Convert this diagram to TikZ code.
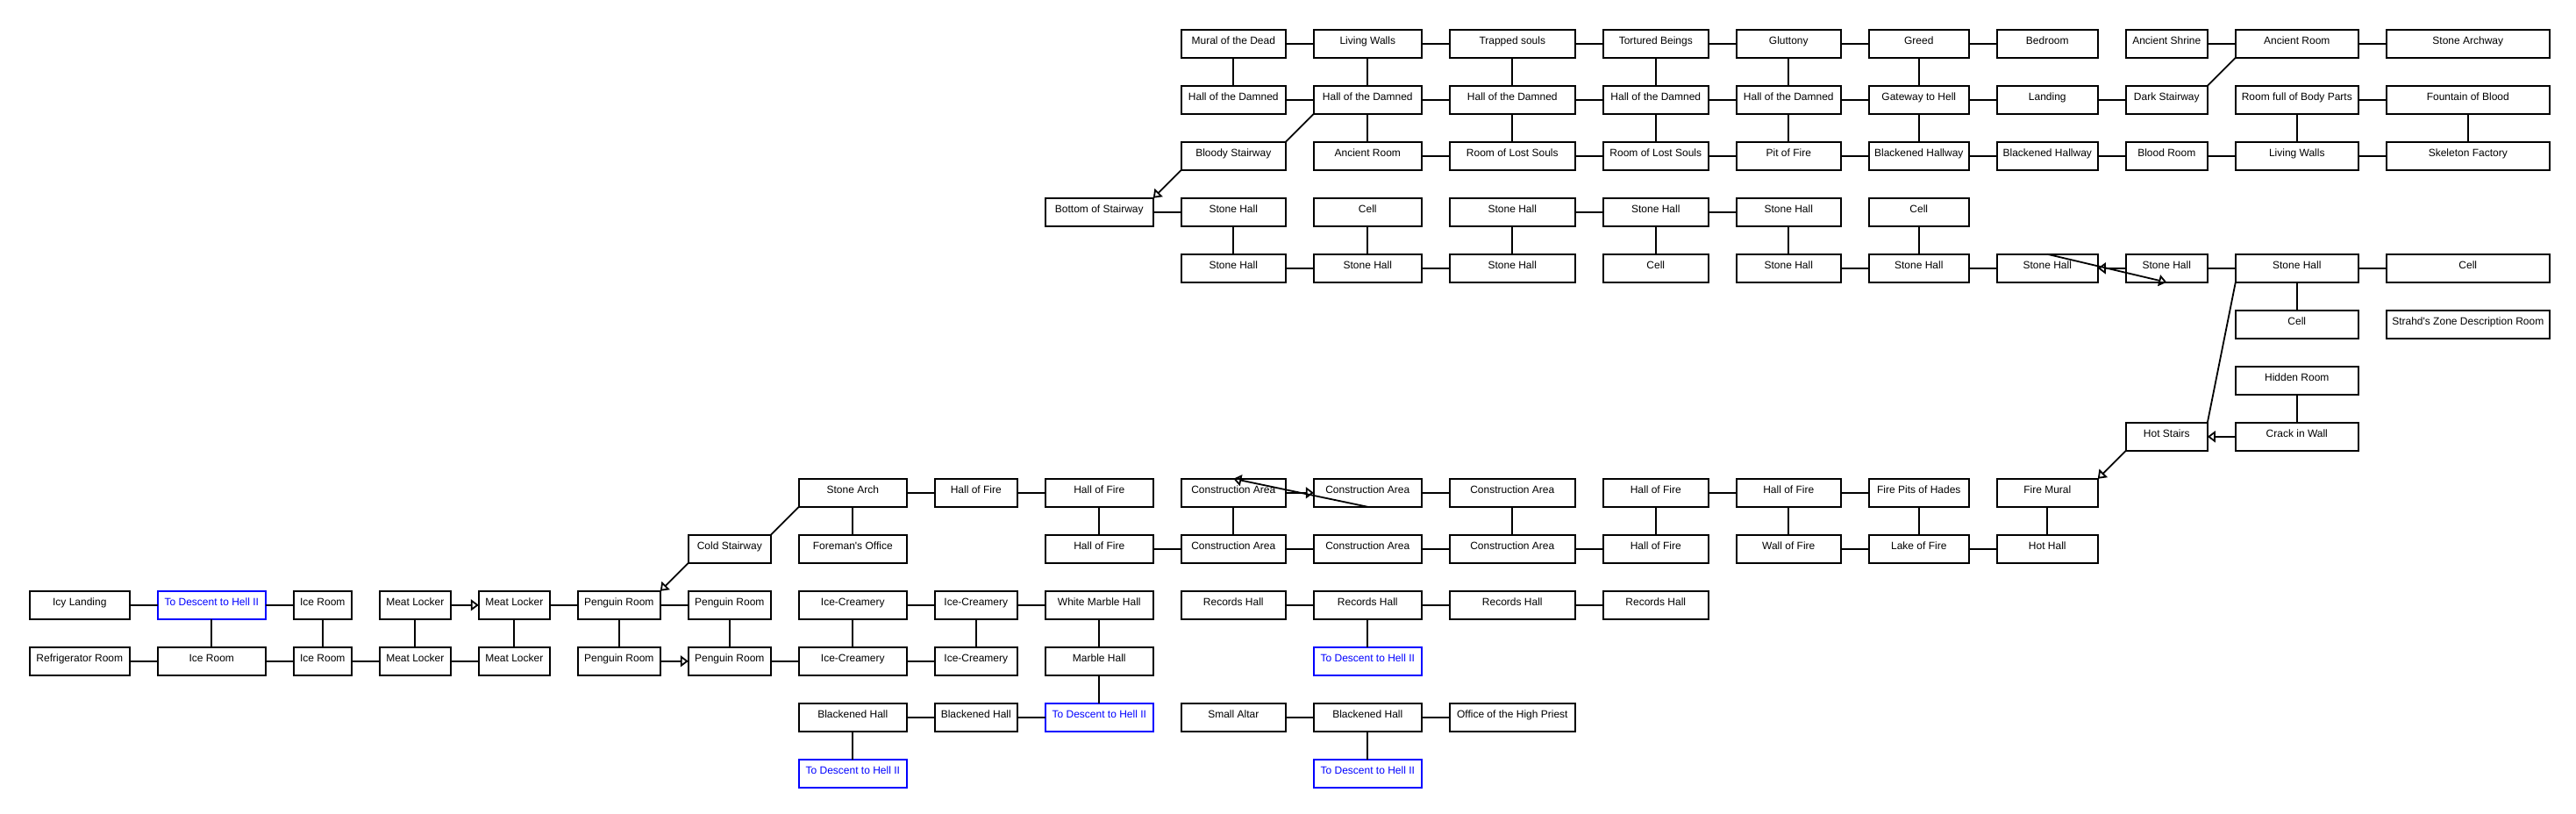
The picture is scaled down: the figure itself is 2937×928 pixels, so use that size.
\documentclass[tikz,border=0pt]{standalone}
\usepackage{fontspec}
\setmainfont{Liberation Sans}
\usetikzlibrary{matrix}
\usetikzlibrary{arrows.meta}

\begin{document}
\begin{tikzpicture}[line width=1.8pt, font=\fontsize{12pt}{14pt}\selectfont,
    room/.style={draw, rectangle, inner xsep=2pt, inner ysep=0pt, outer sep=0pt, minimum height=32pt, text height=9pt, text depth=7pt},
    exit/.style={room, draw=blue, text=blue},
    oneway/.style={-{Triangle[open, length=9pt, width=13pt]}}]
    \useasboundingbox (0,0) rectangle (2937pt,-928pt);
    % Nodes
    \matrix [row sep=30.2pt, column sep=30.2pt, matrix anchor=north west, inner sep=0pt,
      column 1/.style={nodes={minimum width=114pt}}, column 2/.style={nodes={minimum width=123pt}},
      column 3/.style={nodes={minimum width=66pt}}, column 4/.style={nodes={minimum width=81pt}},
      column 5/.style={nodes={minimum width=81pt}}, column 6/.style={nodes={minimum width=94pt}},
      column 7/.style={nodes={minimum width=94pt}}, column 8/.style={nodes={minimum width=123pt}},
      column 9/.style={nodes={minimum width=94pt}}, column 10/.style={nodes={minimum width=123pt}},
      column 11/.style={nodes={minimum width=119pt}}, column 12/.style={nodes={minimum width=123pt}},
      column 13/.style={nodes={minimum width=143pt}}, column 14/.style={nodes={minimum width=120pt}},
      column 15/.style={nodes={minimum width=119pt}}, column 16/.style={nodes={minimum width=114pt}},
      column 17/.style={nodes={minimum width=115pt}}, column 18/.style={nodes={minimum width=93pt}},
      column 19/.style={nodes={minimum width=140pt}}, column 20/.style={nodes={minimum width=186pt}}] (rooms) at (32pt,-32pt) {
      & & & & & & & & & &
      \node (mural) [room] {Mural of the Dead}; &
      \node (livingwallsup) [room] {Living Walls}; &
      \node (trapped) [room] {Trapped souls}; &
      \node (tortured) [room] {Tortured Beings}; &
      \node (gluttony) [room] {Gluttony}; &
      \node (greed) [room] {Greed}; &
      \node (bedroom) [room] {Bedroom}; &
      \node (shrine) [room] {Ancient Shrine}; &
      \node (ancientroomup) [room] {Ancient Room}; &
      \node (archway) [room] {Stone Archway}; \\
      & & & & & & & & & &
      \node (damneda) [room] {Hall of the Damned}; &
      \node (damnedb) [room] {Hall of the Damned}; &
      \node (damnedc) [room] {Hall of the Damned}; &
      \node (damnedd) [room] {Hall of the Damned}; &
      \node (damnede) [room] {Hall of the Damned}; &
      \node (gateway) [room] {Gateway to Hell}; &
      \node (landing) [room] {Landing}; &
      \node (darkstair) [room] {Dark Stairway}; &
      \node (bodyparts) [room] {Room full of Body Parts}; &
      \node (fountain) [room] {Fountain of Blood}; \\
      & & & & & & & & & &
      \node (bloodystair) [room] {Bloody Stairway}; &
      \node (ancientroom) [room] {Ancient Room}; &
      \node (lostsoulsa) [room] {Room of Lost Souls}; &
      \node (lostsoulsb) [room] {Room of Lost Souls}; &
      \node (pit) [room] {Pit of Fire}; &
      \node (hallwaya) [room] {Blackened Hallway}; &
      \node (hallwayb) [room] {Blackened Hallway}; &
      \node (bloodroom) [room] {Blood Room}; &
      \node (livingwalls) [room] {Living Walls}; &
      \node (skeleton) [room] {Skeleton Factory}; \\
      & & & & & & & & &
      \node (bottomstair) [room] {Bottom of Stairway}; &
      \node (stonea) [room] {Stone Hall}; &
      \node (cella) [room] {Cell}; &
      \node (stoneb) [room] {Stone Hall}; &
      \node (stonec) [room] {Stone Hall}; &
      \node (stoned) [room] {Stone Hall}; &
      \node (cellb) [room] {Cell}; \\
      & & & & & & & & & &
      \node (stonee) [room] {Stone Hall}; &
      \node (stonef) [room] {Stone Hall}; &
      \node (stoneg) [room] {Stone Hall}; &
      \node (cellc) [room] {Cell}; &
      \node (stoneh) [room] {Stone Hall}; &
      \node (stonei) [room] {Stone Hall}; &
      \node (stonej) [room] {Stone Hall}; &
      \node (stonek) [room] {Stone Hall}; &
      \node (stonel) [room] {Stone Hall}; &
      \node (celld) [room] {Cell}; \\
      & & & & & & & & & & & & & & & & & &
      \node (celle) [room] {Cell}; &
      \node (strahd) [room] {Strahd\textquotesingle s Zone Description Room}; \\
      & & & & & & & & & & & & & & & & & &
      \node (hidden) [room] {Hidden Room}; \\
      & & & & & & & & & & & & & & & & &
      \node (hotstairs) [room] {Hot Stairs}; &
      \node (crack) [room] {Crack in Wall}; \\
      & & & & & & &
      \node (stonearch) [room] {Stone Arch}; &
      \node (firea) [room] {Hall of Fire}; &
      \node (fireb) [room] {Hall of Fire}; &
      \node (constra) [room] {Construction Area}; &
      \node (constrb) [room] {Construction Area}; &
      \node (constrc) [room] {Construction Area}; &
      \node (firec) [room] {Hall of Fire}; &
      \node (fired) [room] {Hall of Fire}; &
      \node (firepits) [room] {Fire Pits of Hades}; &
      \node (firemural) [room] {Fire Mural}; \\
      & & & & & &
      \node (coldstair) [room] {Cold Stairway}; &
      \node (foreman) [room] {Foreman\textquotesingle s Office}; & &
      \node (firee) [room] {Hall of Fire}; &
      \node (constrd) [room] {Construction Area}; &
      \node (constre) [room] {Construction Area}; &
      \node (constrf) [room] {Construction Area}; &
      \node (firef) [room] {Hall of Fire}; &
      \node (wallfire) [room] {Wall of Fire}; &
      \node (lakefire) [room] {Lake of Fire}; &
      \node (hothall) [room] {Hot Hall}; \\
      \node (icylanding) [room] {Icy Landing}; &
      \node (descenta) [exit] {To Descent to Hell II}; &
      \node (icea) [room] {Ice Room}; &
      \node (meata) [room] {Meat Locker}; &
      \node (meatb) [room] {Meat Locker}; &
      \node (penguina) [room] {Penguin Room}; &
      \node (penguinb) [room] {Penguin Room}; &
      \node (creama) [room] {Ice-Creamery}; &
      \node (creamb) [room] {Ice-Creamery}; &
      \node (whitemarble) [room] {White Marble Hall}; &
      \node (recordsa) [room] {Records Hall}; &
      \node (recordsb) [room] {Records Hall}; &
      \node (recordsc) [room] {Records Hall}; &
      \node (recordsd) [room] {Records Hall}; \\
      \node (fridge) [room] {Refrigerator Room}; &
      \node (iceb) [room] {Ice Room}; &
      \node (icec) [room] {Ice Room}; &
      \node (meatc) [room] {Meat Locker}; &
      \node (meatd) [room] {Meat Locker}; &
      \node (penguinc) [room] {Penguin Room}; &
      \node (penguind) [room] {Penguin Room}; &
      \node (creamc) [room] {Ice-Creamery}; &
      \node (creamd) [room] {Ice-Creamery}; &
      \node (marble) [room] {Marble Hall}; & &
      \node (descentb) [exit] {To Descent to Hell II}; \\
      & & & & & & &
      \node (blackhalla) [room] {Blackened Hall}; &
      \node (blackhallb) [room] {Blackened Hall}; &
      \node (descentc) [exit] {To Descent to Hell II}; &
      \node (altar) [room] {Small Altar}; &
      \node (blackhallc) [room] {Blackened Hall}; &
      \node (priest) [room] {Office of the High Priest}; \\
      & & & & & & &
      \node (descentd) [exit] {To Descent to Hell II}; & & & &
      \node (descente) [exit] {To Descent to Hell II}; \\
    };

    % Lines
    \draw [-] (mural) -- (livingwallsup);
    \draw [-] (livingwallsup) -- (trapped);
    \draw [-] (trapped) -- (tortured);
    \draw [-] (tortured) -- (gluttony);
    \draw [-] (gluttony) -- (greed);
    \draw [-] (greed) -- (bedroom);
    \draw [-] (shrine) -- (ancientroomup);
    \draw [-] (ancientroomup) -- (archway);
    \draw [-] (mural) -- (damneda);
    \draw [-] (livingwallsup) -- (damnedb);
    \draw [-] (trapped) -- (damnedc);
    \draw [-] (tortured) -- (damnedd);
    \draw [-] (gluttony) -- (damnede);
    \draw [-] (greed) -- (gateway);
    \draw [-] (ancientroomup.south west) -- (darkstair.north east);

    \draw [-] (damneda) -- (damnedb);
    \draw [-] (damnedb) -- (damnedc);
    \draw [-] (damnedc) -- (damnedd);
    \draw [-] (damnedd) -- (damnede);
    \draw [-] (damnede) -- (gateway);
    \draw [-] (gateway) -- (landing);
    \draw [-] (landing) -- (darkstair);
    \draw [-] (bodyparts) -- (fountain);
    \draw [-] (damnedb.south west) -- (bloodystair.north east);
    \draw [-] (damnedb) -- (ancientroom);
    \draw [-] (damnedc) -- (lostsoulsa);
    \draw [-] (damnedd) -- (lostsoulsb);
    \draw [-] (damnede) -- (pit);
    \draw [-] (gateway) -- (hallwaya);
    \draw [-] (bodyparts) -- (livingwalls);
    \draw [-] (fountain) -- (skeleton);

    \draw [-] (ancientroom) -- (lostsoulsa);
    \draw [-] (lostsoulsa) -- (lostsoulsb);
    \draw [-] (lostsoulsb) -- (pit);
    \draw [-] (pit) -- (hallwaya);
    \draw [-] (hallwaya) -- (hallwayb);
    \draw [-] (hallwayb) -- (bloodroom);
    \draw [-] (bloodroom) -- (livingwalls);
    \draw [-] (livingwalls) -- (skeleton);
    \draw [oneway] (bloodystair.south west) -- (bottomstair.north east);

    \draw [-] (bottomstair) -- (stonea);
    \draw [-] (stoneb) -- (stonec);
    \draw [-] (stonec) -- (stoned);
    \draw [-] (stonea) -- (stonee);
    \draw [-] (cella) -- (stonef);
    \draw [-] (stoneb) -- (stoneg);
    \draw [-] (stonec) -- (cellc);
    \draw [-] (stoned) -- (stoneh);
    \draw [-] (cellb) -- (stonei);

    \draw [-] (stonee) -- (stonef);
    \draw [-] (stonef) -- (stoneg);
    \draw [-] (stoneh) -- (stonei);
    \draw [-] (stonei) -- (stonej);
    \draw [oneway] (stonek) -- (stonej);
    \draw [oneway] (stonej.north) -- (stonek.south);
    \draw [-] (stonek) -- (stonel);
    \draw [-] (stonel) -- (celld);
    \draw [-] (stonel) -- (celle);
    \draw [-] (stonel.south west) -- (hotstairs.north east);
    \draw [-] (hidden) -- (crack);
    \draw [oneway] (crack) -- (hotstairs);
    \draw [oneway] (hotstairs.south west) -- (firemural.north east);

    \draw [-] (stonearch) -- (firea);
    \draw [-] (firea) -- (fireb);
    \draw [oneway] (constra) -- (constrb);
    \draw [oneway] (constrb.south) -- (constra.north);
    \draw [-] (constrb) -- (constrc);
    \draw [-] (firec) -- (fired);
    \draw [-] (fired) -- (firepits);
    \draw [-] (stonearch) -- (foreman);
    \draw [-] (fireb) -- (firee);
    \draw [-] (constra) -- (constrd);
    \draw [-] (constrc) -- (constrf);
    \draw [-] (firec) -- (firef);
    \draw [-] (fired) -- (wallfire);
    \draw [-] (firepits) -- (lakefire);
    \draw [-] (firemural) -- (hothall);
    \draw [-] (stonearch.south west) -- (coldstair.north east);

    \draw [-] (firee) -- (constrd);
    \draw [-] (constrd) -- (constre);
    \draw [-] (constre) -- (constrf);
    \draw [-] (constrf) -- (firef);
    \draw [-] (wallfire) -- (lakefire);
    \draw [-] (lakefire) -- (hothall);
    \draw [oneway] (coldstair.south west) -- (penguina.north east);

    \draw [-] (icylanding) -- (descenta);
    \draw [-] (descenta) -- (icea);
    \draw [oneway] (meata) -- (meatb);
    \draw [-] (meatb) -- (penguina);
    \draw [-] (penguina) -- (penguinb);
    \draw [-] (creama) -- (creamb);
    \draw [-] (creamb) -- (whitemarble);
    \draw [-] (recordsa) -- (recordsb);
    \draw [-] (recordsb) -- (recordsc);
    \draw [-] (recordsc) -- (recordsd);
    \draw [-] (descenta) -- (iceb);
    \draw [-] (icea) -- (icec);
    \draw [-] (meata) -- (meatc);
    \draw [-] (meatb) -- (meatd);
    \draw [-] (penguina) -- (penguinc);
    \draw [-] (penguinb) -- (penguind);
    \draw [-] (creama) -- (creamc);
    \draw [-] (creamb) -- (creamd);
    \draw [-] (whitemarble) -- (marble);
    \draw [-] (recordsb) -- (descentb);

    \draw [-] (fridge) -- (iceb);
    \draw [-] (iceb) -- (icec);
    \draw [-] (icec) -- (meatc);
    \draw [-] (meatc) -- (meatd);
    \draw [oneway] (penguinc) -- (penguind);
    \draw [-] (penguind) -- (creamc);
    \draw [-] (creamc) -- (creamd);
    \draw [-] (marble) -- (descentc);

    \draw [-] (blackhalla) -- (blackhallb);
    \draw [-] (blackhallb) -- (descentc);
    \draw [-] (altar) -- (blackhallc);
    \draw [-] (blackhallc) -- (priest);
    \draw [-] (blackhalla) -- (descentd);
    \draw [-] (blackhallc) -- (descente);
  \end{tikzpicture}
\end{document}
